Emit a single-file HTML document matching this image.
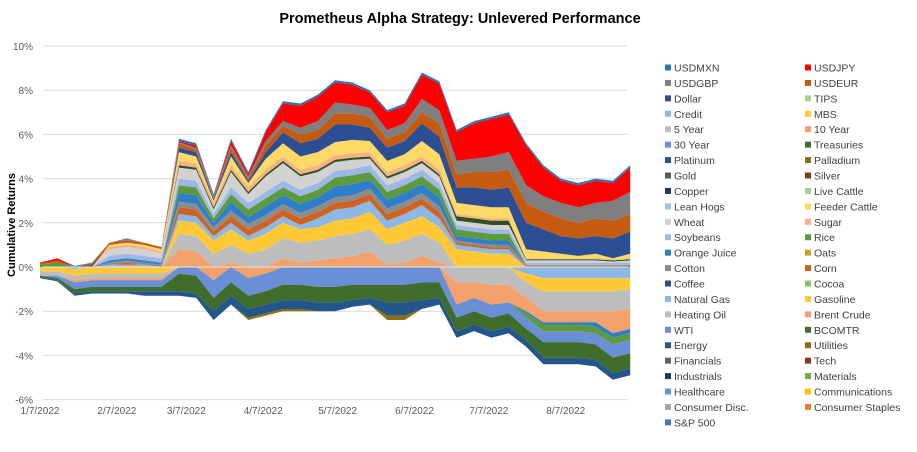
<!DOCTYPE html>
<html><head><meta charset="utf-8"><style>
body{margin:0;background:#fff;}
svg text{font-family:"Liberation Sans",sans-serif;}
</style></head><body>
<svg id="chart" width="917" height="447" viewBox="0 0 917 447" xmlns="http://www.w3.org/2000/svg">
<rect width="917" height="447" fill="#fff"/>
<text x="460" y="23" text-anchor="middle" font-size="14.5" font-weight="bold" fill="#000">Prometheus Alpha Strategy: Unlevered Performance</text>
<text transform="translate(15,225) rotate(-90)" text-anchor="middle" font-size="11" font-weight="bold" fill="#000">Cumulative Returns</text>
<g id="grid"></g><g id="areas"></g><g id="zero"></g><g id="yticks"></g><g id="xticks"></g><g id="legend"></g>
</svg>
<script>
const yTicks=[10,8,6,4,2,0,-2,-4,-6];
const xTickLabels=["1/7/2022","2/7/2022","3/7/2022","4/7/2022","5/7/2022","6/7/2022","7/7/2022","8/7/2022"];
const xTickDays=[0,31,59,90,120,151,181,212];
const weekCount=35;
const tenYear=[0,0,-.1,-.1,-.1,-.1,-.1,-.1,.8,.7,-.6,.2,-.5,-.3,.4,.2,.3,.4,.5,.7,.1,.2,.5,.2,-1.0,-.7,-.9,-.8,-.6,-.5,-.5,-.5,-.5,-1.0,-.9];
const fiveYear=[-.2,-.2,-.2,-.2,-.2,-.2,-.2,-.2,.7,.7,.6,.8,.6,.8,.9,.9,.9,1.0,1.0,1.0,.9,1.0,1.0,.9,-.7,-.7,-.8,-.8,-.7,-.9,-.9,-.9,-.9,-.9,-.9];
const mbs=[-.2,-.2,-.3,-.3,-.3,-.3,-.3,-.3,.6,.6,.6,.7,.6,.7,.7,.6,.6,.7,.7,.8,.7,.8,.8,.7,.8,.7,.6,.6,-.4,-.6,-.6,-.6,-.6,-.6,-.5];
const credit=[0,0,-.1,0,.1,.1,.1,0,.3,.3,.2,.3,.2,.3,.3,.2,.4,.5,.5,.5,.4,.4,.5,.4,.2,.2,.2,.2,-.3,-.5,-.5,-.5,-.5,-.5,-.5];
const wti=[0,-.1,-.3,-.3,-.3,-.3,-.3,-.3,-.3,-.4,-.8,-.7,-.8,-.8,-.8,-.8,-.9,-.9,-.8,-.8,-.8,-.8,-.7,-.7,-.6,-.6,-.6,-.5,-.5,-.5,-.5,-.5,-.5,-.6,-.6];
const bcomtr=[-.05,-.1,-.2,-.2,-.2,-.2,-.2,-.2,-.8,-.8,-.6,-.6,-.6,-.6,-.7,-.7,-.7,-.7,-.7,-.6,-.8,-.8,-.8,-.7,-.6,-.6,-.6,-.6,-.5,-.7,-.7,-.7,-.7,-.7,-.7];
const energy=[-.05,-.05,-.1,-.1,-.1,-.1,-.2,-.2,-.2,-.2,-.4,-.4,-.4,-.4,-.4,-.4,-.4,-.4,-.3,-.3,-.6,-.6,-.4,-.3,-.3,-.3,-.3,-.3,-.3,-.3,-.3,-.3,-.3,-.3,-.3];
const utilities=[0,0,0,0,0,0,0,0,0,0,0,0,-.1,-.1,-.1,-.1,0,0,0,0,-.2,-.2,0,0,0,0,0,0,0,0,0,0,0,0,0];
const corn=[0,0,0,0,0,.1,0,0,.3,.3,.2,.3,.3,.3,.3,.3,.3,.3,.3,.3,.3,.3,.3,.3,.1,.1,.1,.1,.05,.05,.05,.05,.05,.05,.05];
const cotton=[0,0,0,0,.1,.1,.1,.1,.25,.25,.2,.25,.25,.25,.25,.25,.25,.25,.25,.25,.25,.25,.25,.25,.1,.1,.1,.1,.05,.05,.05,.05,.05,.05,.05];
const orangeJuice=[0,0,0,0,.1,.1,.1,.1,.4,.4,.2,.4,.3,.4,.4,.4,.4,.5,.5,.4,.4,.4,.4,.4,.2,.2,.2,.2,-.1,-.1,-.1,-.1,-.2,-.2,-.2];
const rice=[.15,.2,0,0,0,0,0,0,.35,.35,.2,.35,.35,.35,.35,.35,.35,.4,.4,.35,.35,.35,.35,.35,.3,.3,.3,.3,-.2,-.3,-.3,-.3,-.3,-.3,-.3];
const soybeans=[0,0,0,0,.2,.2,.2,.2,.3,.3,.2,.3,.3,.3,.3,.3,.3,.3,.3,.3,.3,.3,.3,.3,.2,.2,.2,.2,.1,.1,.1,.1,.1,.1,.1];
const wheat=[0,0,0,0,.3,.3,.3,.2,.5,.5,.2,.7,.4,.7,.8,.6,.5,.4,.4,.3,.3,.3,.3,.3,.2,.2,.2,.2,.1,.1,.1,.1,.1,.05,.1];
const treasuries=[0,0,0,0,0,0,0,0,.1,.1,.1,.1,.1,.1,.1,.1,.1,.1,.1,.1,.1,.1,.1,.1,.2,.2,.2,.2,.05,.05,.05,.05,.05,.05,.05];
const sugar=[0,0,0,0,.1,.1,.1,.1,.2,.2,.2,.2,.2,.2,.2,.2,.2,.2,.2,.2,.2,.2,.2,.2,.1,.1,.1,.1,.05,.05,.05,.05,.05,.05,.05];
const feederCattle=[0,0,0,0,.1,.1,.1,.1,.4,.3,.1,.4,.2,.5,.6,.6,.6,.6,.6,.5,.5,.5,.7,.7,.5,.5,.5,.5,.4,.3,.2,.1,.2,.05,.2];
const dollar=[0,0,0,.1,0,0,0,0,.2,.2,.1,.2,.1,.3,.5,.6,.6,.8,.7,.6,.6,.6,.8,.8,.7,.8,.8,.9,1.2,1.0,.8,.8,.8,.9,1.0];
const usdeur=[0,.1,0,.1,.1,.1,.1,.1,.2,.1,.05,.2,.1,.3,.3,.4,.4,.5,.5,.5,.4,.4,.5,.6,.6,.7,.8,.8,.9,.8,.8,.7,.8,.8,.8];
const usdgbp=[0,0,0,0,0,.1,0,0,.05,.1,.05,.1,.1,.2,.2,.3,.4,.5,.4,.4,.4,.4,.6,.6,.6,.6,.7,.8,.8,.7,.7,.7,.7,.9,1.0];
const usdjpy=[.05,.1,0,0,0,0,0,0,.05,.1,0,.2,.1,.4,.8,1.0,1.1,.9,.9,.7,.8,.8,1.1,1.2,1.3,1.6,1.7,1.7,1.8,1.3,1.0,1.0,1.0,.8,1.1];
const usdmxn=[0,0,.05,0,0,0,0,0,.1,.1,.1,.1,.1,.1,.1,.1,.1,.1,.1,.1,.1,.1,.1,.1,.1,.1,.1,.1,.1,.1,.1,.1,.1,.1,.1];

const series=[
 ["ten-year",tenYear,"#F4A06A"],["five-year",fiveYear,"#BDBDBD"],["mbs",mbs,"#FFC935"],["credit",credit,"#8DB8E6"],
 ["wti",wti,"#6A8FD6"],["bcomtr",bcomtr,"#3F6E2C"],["energy",energy,"#24568C"],["utilities",utilities,"#8B7010"],
 ["corn",corn,"#D0621F"],["cotton",cotton,"#8C8C8C"],["orange-juice",orangeJuice,"#2E7EC9"],["rice",rice,"#5C9A3C"],
 ["soybeans",soybeans,"#9DB7E6"],["wheat",wheat,"#D2D2D2"],["treasuries",treasuries,"#2F5020"],["sugar",sugar,"#F4B183"],
 ["feeder-cattle",feederCattle,"#FFD966"],["dollar",dollar,"#2C4F93"],["usdeur",usdeur,"#C55A11"],["usdgbp",usdgbp,"#7F7F7F"],
 ["usdjpy",usdjpy,"#FF0000"],["usdmxn",usdmxn,"#2E75B6"]];
const negOrder=["credit","mbs","five-year","ten-year","orange-juice","rice","wti","bcomtr","energy","utilities"];

const X0=40,PXD=2.48,Y0=267,PXP=22.1;
const xs=d=>X0+d*PXD;
const ys=v=>Y0-v*PXP;
const NS="http://www.w3.org/2000/svg";
const mk=(t,a,p)=>{const e=document.createElementNS(NS,t);for(const k in a)e.setAttribute(k,a[k]);p.appendChild(e);return e;};

const grid=document.getElementById('grid'),yt=document.getElementById('yticks');
yTicks.forEach(v=>{
 const l=mk('line',{x1:43,x2:628,y1:ys(v),y2:ys(v),stroke:'#D9D9D9','stroke-width':1},grid);
 
 
 const t=mk('text',{x:33,y:ys(v)+4,'text-anchor':'end','font-size':10,fill:'#595959'},yt);
 t.textContent=v+'%';
 
 
});
const xt=document.getElementById('xticks');
xTickLabels.forEach((s,i)=>{
 const t=mk('text',{x:xs(xTickDays[i]),y:414,'text-anchor':'middle','font-size':10,fill:'#595959'},xt);
 t.textContent=s;
 
 
});

// separate positive and negative stacks per series
const pLo={},pHi={},nLo={},nHi={};
series.forEach(s=>{pLo[s[0]]=[];pHi[s[0]]=[];nLo[s[0]]=[];nHi[s[0]]=[];});
const ord=negOrder.concat(series.map(s=>s[0]).filter(k=>!negOrder.includes(k)));
for(let i=0;i<weekCount;i++){
 let p=0;
 series.forEach(s=>{const v=Math.max(0,s[1][i]);pLo[s[0]][i]=p;p+=v;pHi[s[0]][i]=p;});
 let n=0;
 ord.forEach(k=>{const s=series.find(q=>q[0]===k);const v=Math.min(0,s[1][i]);nHi[k][i]=n;n+=v;nLo[k][i]=n;});
}
const areas=document.getElementById('areas');
function poly(k,hiA,loA,col,suffix){
 let pts=[];
 for(let i=0;i<weekCount;i++)pts.push(xs(i*7).toFixed(1)+','+ys(hiA[i]).toFixed(1));
 for(let i=weekCount-1;i>=0;i--)pts.push(xs(i*7).toFixed(1)+','+ys(loA[i]).toFixed(1));
 const pg=mk('polygon',{points:pts.join(' '),fill:col},areas);
 
 
}
series.forEach(s=>{
 const k=s[0];
 if(s[1].some(v=>v>0))poly(k,pHi[k],pLo[k],s[2],'-positive');
 if(s[1].some(v=>v<0))poly(k,nHi[k],nLo[k],s[2],'-negative');
});
const z=mk('line',{x1:43,x2:628,y1:Y0,y2:Y0,stroke:'#E6E6E6','stroke-width':1},document.getElementById('zero'));



const legCol1=["USDMXN","USDGBP","Dollar","Credit","5 Year","30 Year","Platinum","Gold","Copper","Lean Hogs","Wheat","Soybeans","Orange Juice","Cotton","Coffee","Natural Gas","Heating Oil","WTI","Energy","Financials","Industrials","Healthcare","Consumer Disc.","S&P 500"];
const legCol1C=["#2E75B6","#7F7F7F","#2C4F93","#8DB8E6","#BDBDBD","#6A8FD6","#24568C","#595959","#1F3864","#9DC3E6","#D2D2D2","#9DB7E6","#2E7EC9","#8C8C8C","#2C4F93","#8DB8E6","#BDBDBD","#6A8FD6","#24568C","#636363","#1F3864","#5B9BD5","#A5A5A5","#4472C4"];
const legCol2=["USDJPY","USDEUR","TIPS","MBS","10 Year","Treasuries","Palladium","Silver","Live Cattle","Feeder Cattle","Sugar","Rice","Oats","Corn","Cocoa","Gasoline","Brent Crude","BCOMTR","Utilities","Tech","Materials","Communications","Consumer Staples"];
const legCol2C=["#FF0000","#C55A11","#A9D18E","#FFC935","#F4A06A","#3F6E2C","#8B7010","#843C0C","#A9D18E","#FFD966","#F4B183","#5C9A3C","#C9A227","#D0621F","#8CC26E","#FFC935","#F4A06A","#3F6E2C","#8B7010","#843C0C","#70AD47","#FFC000","#ED7D31"];
const leg=document.getElementById('legend');
function legend(names,cols,x){
 names.forEach((n,i)=>{
  const y=68+i*15.43;
  const g=mk('g',{},leg);
  
  
  mk('rect',{x:x,y:y-3.5,width:6,height:6,fill:cols[i]},g);
  const t=mk('text',{x:x+9,y:y+3.5,'font-size':10.5,fill:'#404040'},g);
  t.textContent=n;
 });
}
legend(legCol1,legCol1C,665);
legend(legCol2,legCol2C,805);
</script>
</body></html>
